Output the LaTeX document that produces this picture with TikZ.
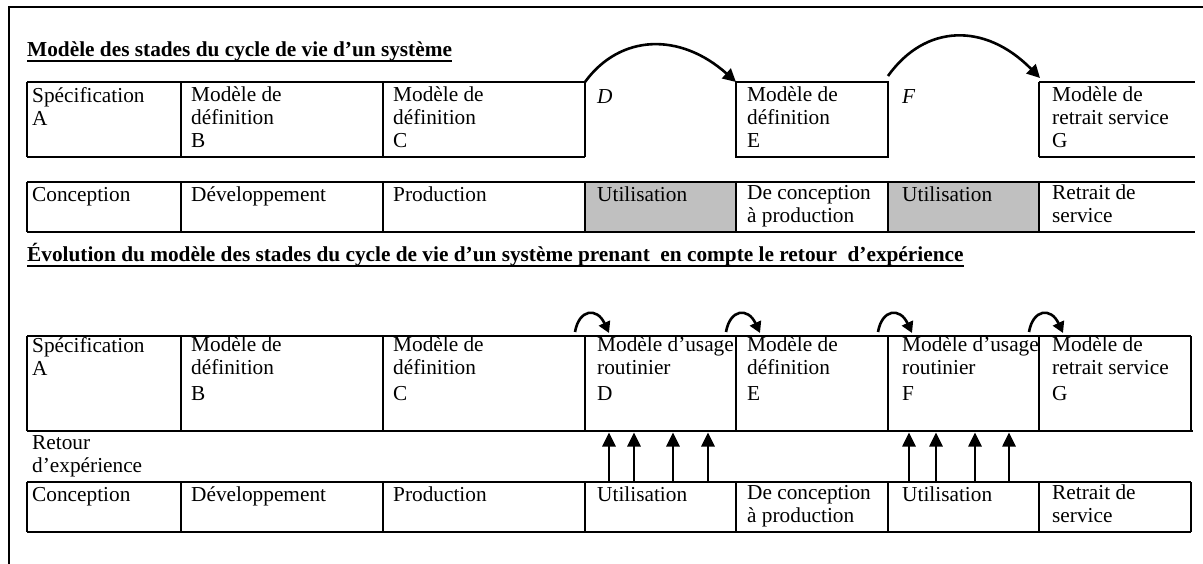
\documentclass[tikz,border=0pt]{standalone}
\usepackage{fontspec}
\setmainfont{Liberation Serif}
\usetikzlibrary{arrows.meta,calc}
\definecolor{cellgrey}{RGB}{192,192,192}
\begin{document}
\begin{tikzpicture}[x=1pt,y=-1pt,
  rule/.style={line width=1.1pt},
  medrule/.style={line width=1.8pt},
  heavy/.style={line width=2.8pt},
  txt/.style={anchor=north west, inner sep=0pt, align=left,
    font=\fontsize{21.3}{23}\selectfont, execute at begin node=\strut},
  ttl/.style={anchor=base west, inner sep=0pt,
    font=\fontsize{21.3}{24}\selectfont\bfseries},
  bigarc/.style={line width=2.6pt, -{Triangle[length=13pt,width=13pt]}},
  smallarc/.style={line width=2.6pt, -{Triangle[length=11pt,width=12pt]}},
  feed/.style={line width=2.6pt, -{Triangle[length=14pt,width=13pt]}}]
\useasboundingbox (0,0) rectangle (1203,564);
% outer frame
\draw[line width=2pt] (9,570) -- (9,7) -- (1210,7);

% ---------- title 1
\node[ttl] (t1) at (27,57) {Modèle des stades du cycle de vie d’un système};
\draw[line width=1.8pt] ($(t1.base west)+(0,4)$) -- ($(t1.base east)+(0,4)$);

% ---------- table 1 (y 82-157)
\draw[medrule] (27,82) -- (585,82);
\draw[rule] (27,157) -- (585,157);
\foreach \x in {27,181,383,585} \draw[rule] (\x,82) -- (\x,157);
\draw[medrule] (736,82) -- (888,82);
\draw[rule] (736,157) -- (888,157);
\draw[heavy] (736,81) -- (736,158);
\draw[heavy] (888,81) -- (888,158);
\draw[medrule] (1039,82) -- (1195,82);
\draw[rule] (1039,157) -- (1195,157);
\draw[rule] (1039,82) -- (1039,157);

\node[txt] (a1) at (32,103-16.1) {Spécification\\A};
\node[txt] (b1) at (191,103-16.1) {Modèle de\\définition\\B};
\node[txt] (c1) at (393,103-16.1) {Modèle de\\définition\\C};
\node[txt] (d1) at (597,103-16.1) {\itshape D};
\node[txt] (e1) at (747,103-16.1) {Modèle de\\définition\\E};
\node[txt] (f1) at (902,103-16.1) {\itshape F};
\node[txt] (g1) at (1052,103-16.1) {Modèle de\\retrait service\\G};

\coordinate (arc1s) at (585,82);
\coordinate (arc1e) at (736,82);
\coordinate (arc2s) at (888,76);
\coordinate (arc2e) at (1040,78);
\draw[bigarc] (arc1s) .. controls (620,34) and (680,32) .. (arc1e);
\draw[bigarc] (arc2s) .. controls (925,24) and (985,22) .. (arc2e);

% ---------- table 2 (y 182-232)
\fill[cellgrey] (585,182) rectangle (736,232);
\fill[cellgrey] (888,182) rectangle (1039,232);
\draw[medrule] (27,182) -- (1195,182);
\draw[rule] (27,232) -- (1195,232);
\foreach \x in {27,181,383,585,1039} \draw[rule] (\x,182) -- (\x,232);
\draw[heavy] (736,181) -- (736,233);
\draw[heavy] (888,181) -- (888,233);

\node[txt] (a2) at (32,201-16.1) {Conception};
\node[txt] (b2) at (191,201-16.1) {Développement};
\node[txt] (c2) at (393,201-16.1) {Production};
\node[txt] (d2) at (597,201-16.1) {Utilisation};
\node[txt] (e2) at (747,201-16.1) {De conception\\à production};
\node[txt] (f2) at (902,201-16.1) {Utilisation};
\node[txt] (g2) at (1052,201-16.1) {Retrait de\\service};

% ---------- title 2
\node[ttl] (t2) at (27,262) {Évolution du modèle des stades du cycle de vie d’un système prenant\ \ en compte le retour\ \ d’expérience};
\draw[line width=1.8pt] ($(t2.base west)+(0,4)$) -- ($(t2.base east)+(0,4)$);

% ---------- table 3 (y 336-431)
\draw[rule] (27,336) -- (1191,336);
\draw[heavy] (27,431) -- (1193,431);
\foreach \x in {27,181,383,585,1039,1191} \draw[rule] (\x,336) -- (\x,431);
\draw[heavy] (736,336) -- (736,431);
\draw[heavy] (888,336) -- (888,431);

\node[txt] (a3) at (32,353-16.1) {Spécification\\A};
\node[txt] (b3) at (191,353-16.1) {Modèle de\\définition\\[3pt]B};
\node[txt] (c3) at (393,353-16.1) {Modèle de\\définition\\[3pt]C};
\node[txt] (d3) at (597,353-16.1) {Modèle d’usage\\routinier\\[3pt]D};
\node[txt] (e3) at (747,353-16.1) {Modèle de\\définition\\[3pt]E};
\node[txt] (f3) at (902,353-16.1) {Modèle d’usage\\routinier\\[3pt]F};
\node[txt] (g3) at (1052,353-16.1) {Modèle de\\retrait service\\[3pt]G};

\foreach \b/\n in {585/d,736/e,888/f,1039/g}{
  \coordinate (s\n) at (\b-10,332);
  \coordinate (t\n) at (\b+24,333);
  \draw[smallarc] (s\n) .. controls (\b-6,309) and (\b+12,307) .. (t\n);
}

% ---------- retour d'expérience
\node[txt] (rx) at (32,451-16.1) {Retour\\d’expérience};

% ---------- table 4 (y 482-532)
\draw[rule] (27,482) -- (1191,482);
\draw[rule] (27,532) -- (1191,532);
\foreach \x in {27,181,383,585,1039,1191} \draw[rule] (\x,482) -- (\x,532);
\draw[heavy] (736,481) -- (736,533);
\draw[heavy] (888,481) -- (888,533);

\node[txt] (a4) at (32,501-16.1) {Conception};
\node[txt] (b4) at (191,501-16.1) {Développement};
\node[txt] (c4) at (393,501-16.1) {Production};
\node[txt] (d4) at (597,501-16.1) {Utilisation};
\node[txt] (e4) at (747,501-16.1) {De conception\\à production};
\node[txt] (f4) at (902,501-16.1) {Utilisation};
\node[txt] (g4) at (1052,501-16.1) {Retrait de\\service};

% feedback arrows
\foreach \x [count=\i] in {609,634,673,708,909,936,975,1009}{
  \coordinate (fb\i) at (\x,482);
  \coordinate (ft\i) at (\x,432.5);
  \draw[feed] (fb\i) -- (ft\i);
}
\end{tikzpicture}
\end{document}
